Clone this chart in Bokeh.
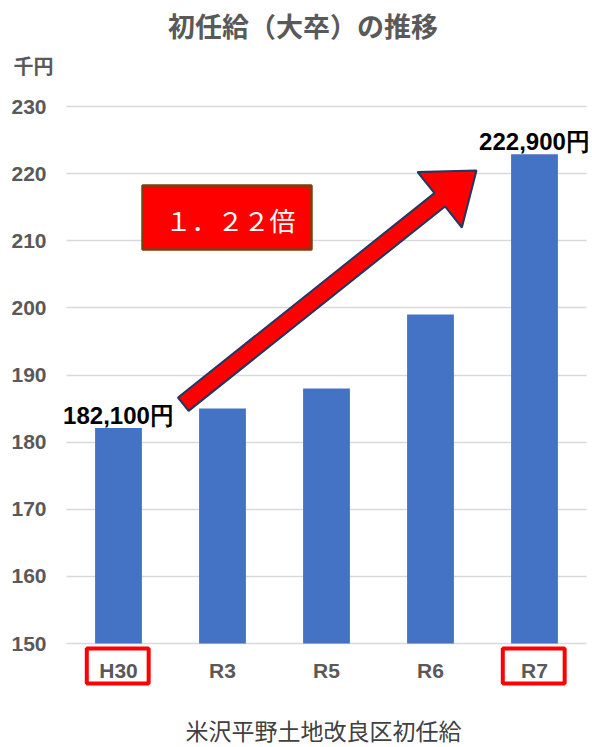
from bokeh.plotting import figure
from bokeh.models import (ColumnDataSource, FixedTicker, LabelSet, Label,
                          BoxAnnotation, PolyAnnotation)
from bokeh.core.properties import value
from bokeh.embed import file_html
from bokeh.resources import INLINE

# --- data -------------------------------------------------------------
years = ["H30", "R3", "R5", "R6", "R7"]
salary_thousand_yen = [182.1, 185.0, 188.0, 199.0, 222.9]
labelled_years = ["H30", "R7"]
y_ticks = [150, 160, 170, 180, 190, 200, 210, 220, 230]

title_text = "初任給（大卒）の推移"
unit_text = "千円"
source_text = "米沢平野土地改良区初任給"
ratio_text = "１．２２倍"

# --- layout -----------------------------------------------------------
# The frame fills the whole canvas; the bar area is the box below.
W, H = 592, 747
AREA_L, AREA_R, AREA_T, AREA_B = 66, 586, 106, 643
Y_MIN, Y_MAX = 150, 230
N = len(years)
PX_X = (AREA_R - AREA_L) / N                 # pixels per category
PX_Y = (AREA_B - AREA_T) / (Y_MAX - Y_MIN)   # pixels per thousand yen

GREY = "#595959"
BAR = "#4472C4"
JP = "Noto Sans CJK JP"


def px_to_data(px, py):
    """Canvas pixel position -> data coordinates."""
    return -0.5 + (px - AREA_L) / PX_X, Y_MIN + (AREA_B - py) / PX_Y


x0, y1 = px_to_data(0, 0)
x1, y0 = px_to_data(W, H)

p = figure(width=W, height=H, x_range=(x0, x1), y_range=(y0, y1),
           output_backend="svg", toolbar_location=None,
           min_border=0, min_border_left=0, min_border_right=0,
           min_border_top=0, min_border_bottom=0)
p.title.visible = False
p.outline_line_color = None
p.background_fill_color = "white"
p.border_fill_color = "white"

# bars
idx = list(range(N))
src = ColumnDataSource(dict(x=idx, y=salary_thousand_yen, name=years))
p.vbar(x="x", top="y", bottom=Y_MIN, width=0.45, source=src,
       fill_color=BAR, line_color=None)

# grid: horizontal lines across the bar area only
p.xgrid.visible = False
p.ygrid.ticker = FixedTicker(ticks=y_ticks)
p.ygrid.grid_line_color = "#D9D9D9"
p.ygrid.grid_line_width = 1.6
if "cross_bounds" in p.ygrid[0].properties():
    p.ygrid.cross_bounds = (-0.5, N - 0.5)

# axes pinned to the edges of the bar area
p.xaxis.ticker = FixedTicker(ticks=idx)
p.xaxis.major_label_overrides = {i: y for i, y in enumerate(years)}
p.xaxis.fixed_location = Y_MIN
p.yaxis.ticker = FixedTicker(ticks=y_ticks)
p.yaxis.fixed_location = -0.5
for ax, standoff in ((p.xaxis[0], 15), (p.yaxis[0], 20)):
    ax.axis_line_color = None
    ax.major_tick_line_color = None
    ax.minor_tick_line_color = None
    ax.major_tick_out = 0
    ax.major_tick_in = 0
    ax.major_label_standoff = standoff
    ax.major_label_text_font = "Liberation Sans"
    ax.major_label_text_font_style = "bold"
    ax.major_label_text_font_size = "21px"
    ax.major_label_text_color = GREY

# value labels on the first and last year
lab_x = [years.index(y) for y in labelled_years]
lab_v = [salary_thousand_yen[i] for i in lab_x]
lab_src = ColumnDataSource(dict(
    x=lab_x, y=lab_v,
    text=[f"{round(v * 1000):,}円" for v in lab_v]))
p.add_layout(LabelSet(x="x", y="y", text="text", source=lab_src,
                      y_offset=4, text_align="center",
                      text_baseline="alphabetic",
                      text_font=value("Liberation Sans"),
                      text_font_style="bold", text_font_size="24px",
                      text_color="black"))

# red frames around the compared years' tick labels
_, box_top = px_to_data(0, 648)
_, box_bot = px_to_data(0, 683)
for i in lab_x:
    p.add_layout(BoxAnnotation(left=i - 0.305, right=i + 0.29,
                               top=box_top, bottom=box_bot,
                               fill_color=None, line_color="#FF0000",
                               line_alpha=1.0, line_width=4))


# growth arrow from the first to the last labelled bar
def arrow_outline(tail, tip, shaft_w, head_w, head_len):
    (tx, ty), (hx, hy) = tail, tip
    dx, dy = hx - tx, hy - ty
    L = (dx * dx + dy * dy) ** 0.5
    ux, uy = dx / L, dy / L
    nx, ny = -uy, ux
    bx, by = hx - ux * head_len, hy - uy * head_len
    s, h = shaft_w / 2, head_w / 2
    pts = [(tx + nx * s, ty + ny * s), (bx + nx * s, by + ny * s),
           (bx + nx * h, by + ny * h), (hx, hy),
           (bx - nx * h, by - ny * h), (bx - nx * s, by - ny * s),
           (tx - nx * s, ty - ny * s)]
    return [px_to_data(a, b) for a, b in pts]


arrow = arrow_outline(tail=(182.8, 403.7), tip=(476, 170),
                      shaft_w=17, head_w=71, head_len=47)
p.add_layout(PolyAnnotation(xs=[a for a, _ in arrow], ys=[b for _, b in arrow],
                            fill_color="#FF0000", fill_alpha=1.0,
                            line_color="#1F3864", line_alpha=1.0,
                            line_width=2))

# ratio call-out box
bl, bt = px_to_data(142, 185)
br, bb = px_to_data(311, 249)
p.add_layout(BoxAnnotation(left=bl, right=br, top=bt, bottom=bb,
                           fill_color="#FF0000", fill_alpha=1.0,
                           line_color="#7B3F10", line_alpha=1.0,
                           line_width=2.5))
rx, ry = px_to_data(230, 219)
p.add_layout(Label(x=rx, y=ry, text=ratio_text, text_align="center",
                   text_baseline="middle", text_font=JP,
                   text_font_size="26px", text_color="white"))

# titles
tx, ty = px_to_data(302.5, 25)
p.add_layout(Label(x=tx, y=ty, text=title_text, text_align="center",
                   text_baseline="middle", text_font=JP,
                   text_font_style="bold", text_font_size="27px",
                   text_color=GREY))
ux_, uy_ = px_to_data(33, 65)
p.add_layout(Label(x=ux_, y=uy_, text=unit_text, text_align="center",
                   text_baseline="middle", text_font=JP,
                   text_font_style="bold", text_font_size="20px",
                   text_color=GREY))
sx_, sy_ = px_to_data(323, 729)
p.add_layout(Label(x=sx_, y=sy_, text=source_text, text_align="center",
                   text_baseline="middle", text_font=JP,
                   text_font_size="23px", text_color="#404040"))

open("out.html", "w").write(file_html(p, INLINE))
